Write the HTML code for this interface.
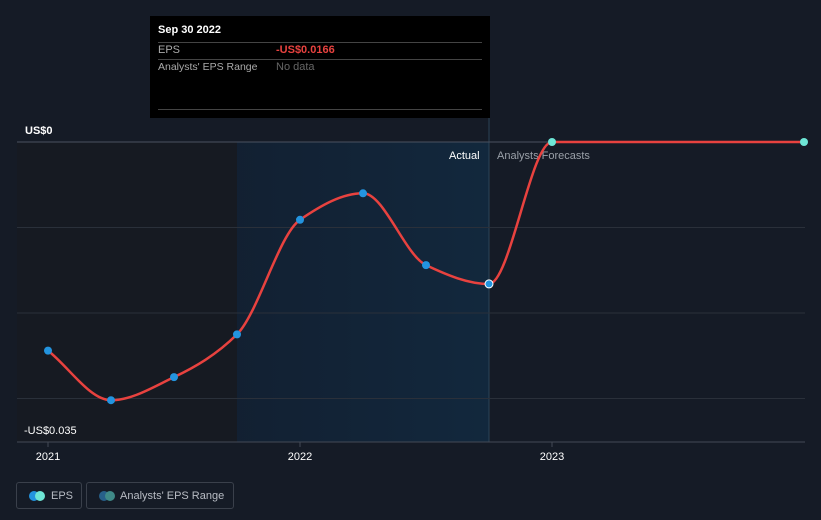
<!DOCTYPE html>
<html><head><meta charset="utf-8"><style>
body{margin:0;background:#151b26;font-family:"Liberation Sans",sans-serif;}
#wrap{position:relative;width:821px;height:520px;overflow:hidden;background:#151b26;}
.lg{position:absolute;top:482px;height:27px;border:1px solid #3a404b;border-radius:3px;color:#b8bcc4;font-size:11px;line-height:26px;box-sizing:border-box;white-space:nowrap;}
.dot{position:absolute;top:8px;width:10px;height:10px;border-radius:50%;}
.tt{position:absolute;font-size:11px;white-space:nowrap;}
</style></head><body>
<div id="wrap">
<svg id="chart" width="821" height="520" style="position:absolute;left:0;top:0">
<defs><linearGradient id="g" x1="0" x2="1"><stop offset="0" stop-color="#11243a" stop-opacity="0.6"/><stop offset="1" stop-color="#12283d"/></linearGradient></defs>
<rect x="17" y="142" width="220" height="300" fill="#161a22"/>
<rect x="237" y="142" width="252" height="300" fill="url(#g)"/>
<line x1="489" y1="118" x2="489" y2="442" stroke="#2c4357"/>
<g id="grid"></g>
<line x1="17" y1="442" x2="805" y2="442" stroke="#444a55"/>
<text x="449" y="159" fill="#fff" font-size="11">Actual</text>
<text x="497" y="159" fill="#9aa0a8" font-size="11">Analysts Forecasts</text>
<text x="25" y="134" fill="#fff" font-size="11" font-weight="bold">US$0</text>
<text x="24" y="434" fill="#fff" font-size="11">-US$0.035</text>
<g id="xt"></g>
<path id="line" fill="none" stroke="#e8423f" stroke-width="2.5"/>
<g id="pts"></g>
</svg>
<div style="position:absolute;left:150px;top:16px;width:340px;height:102px;background:#000;color:#fff">
<div class="tt" style="left:8px;top:8px;font-weight:bold">Sep 30 2022</div>
<div style="position:absolute;left:8px;right:8px;top:26px;border-top:1px solid #444"></div>
<div class="tt" style="left:8px;top:28px;color:#aaa">EPS</div>
<div class="tt" style="left:126px;top:28px;color:#e8423f;font-weight:bold">-US$0.0166</div>
<div style="position:absolute;left:8px;right:8px;top:43px;border-top:1px solid #444"></div>
<div class="tt" style="left:8px;top:45px;color:#aaa;font-size:10.5px">Analysts' EPS Range</div>
<div class="tt" style="left:126px;top:45px;color:#666">No data</div>
<div style="position:absolute;left:8px;right:8px;top:93px;border-top:1px solid #444"></div>
</div>
<div class="lg" style="left:16px;width:66px"><span class="dot" style="left:12px;background:#2394df"></span><span class="dot" style="left:18px;background:#6ee6d6"></span><span style="position:absolute;left:34px">EPS</span></div>
<div class="lg" style="left:86px;width:148px"><span class="dot" style="left:12px;background:#27608a"></span><span class="dot" style="left:18px;background:#3f8a88"></span><span style="position:absolute;left:33px">Analysts' EPS Range</span></div>
</div>
<script>
const dates=[2021,2021.25,2021.5,2021.75,2022,2022.25,2022.5,2022.75,2023,2024];
const eps=[-0.0244,-0.0302,-0.0275,-0.0225,-0.0091,-0.006,-0.0144,-0.0166,0,0];
const yTicks=[0,-0.01,-0.02,-0.03];
const xTicks=[2021,2022,2023];
const xTickLabels=["2021","2022","2023"];
const X=d=>48+(d-2021)*252;
const Y=v=>142-v*8550;
const ns="http://www.w3.org/2000/svg";
const grid=document.getElementById('grid');
yTicks.forEach(t=>{const l=document.createElementNS(ns,'line');
l.setAttribute('x1',17);l.setAttribute('x2',805);l.setAttribute('y1',Y(t));l.setAttribute('y2',Y(t));
l.setAttribute('stroke',t===0?'#4a5260':'#2a303a');


grid.appendChild(l);});
const xt=document.getElementById('xt');
xTicks.forEach((t,i)=>{const l=document.createElementNS(ns,'line');
l.setAttribute('x1',X(t));l.setAttribute('x2',X(t));l.setAttribute('y1',442);l.setAttribute('y2',447);l.setAttribute('stroke','#444a55');


xt.appendChild(l);
const tx=document.createElementNS(ns,'text');tx.setAttribute('x',X(t));tx.setAttribute('y',460);tx.setAttribute('fill','#fff');tx.setAttribute('font-size','11');tx.setAttribute('text-anchor','middle');tx.textContent=xTickLabels[i];


xt.appendChild(tx);});
const P=dates.map((d,i)=>[X(d),Y(eps[i])]);
// monotone cubic
const n=P.length,m=[],s=[];
for(let i=0;i<n-1;i++)s.push((P[i+1][1]-P[i][1])/(P[i+1][0]-P[i][0]));
for(let i=0;i<n;i++){
 if(i===0)m.push(s[0]);else if(i===n-1)m.push(s[n-2]);
 else if(s[i-1]*s[i]<=0)m.push(0);
 else{const h0=P[i][0]-P[i-1][0],h1=P[i+1][0]-P[i][0];m.push(3*(h0+h1)/((2*h1+h0)/s[i-1]+(h1+2*h0)/s[i]));}
}
let dd=`M${P[0][0]},${P[0][1]}`;
for(let i=0;i<n-1;i++){const h=(P[i+1][0]-P[i][0])/3;
dd+=` C${P[i][0]+h},${P[i][1]+m[i]*h} ${P[i+1][0]-h},${P[i+1][1]-m[i+1]*h} ${P[i+1][0]},${P[i+1][1]}`;}
document.getElementById('line').setAttribute('d',dd);
const pts=document.getElementById('pts');
P.forEach((p,i)=>{const c=document.createElementNS(ns,'circle');c.setAttribute('cx',p[0]);c.setAttribute('cy',p[1]);c.setAttribute('r',4);
c.setAttribute('fill',i>=8?'#6ee6d6':'#2394df');
if(i===7){c.setAttribute('stroke','#fff');c.setAttribute('stroke-width','1');}


pts.appendChild(c);});
</script>
</body></html>
